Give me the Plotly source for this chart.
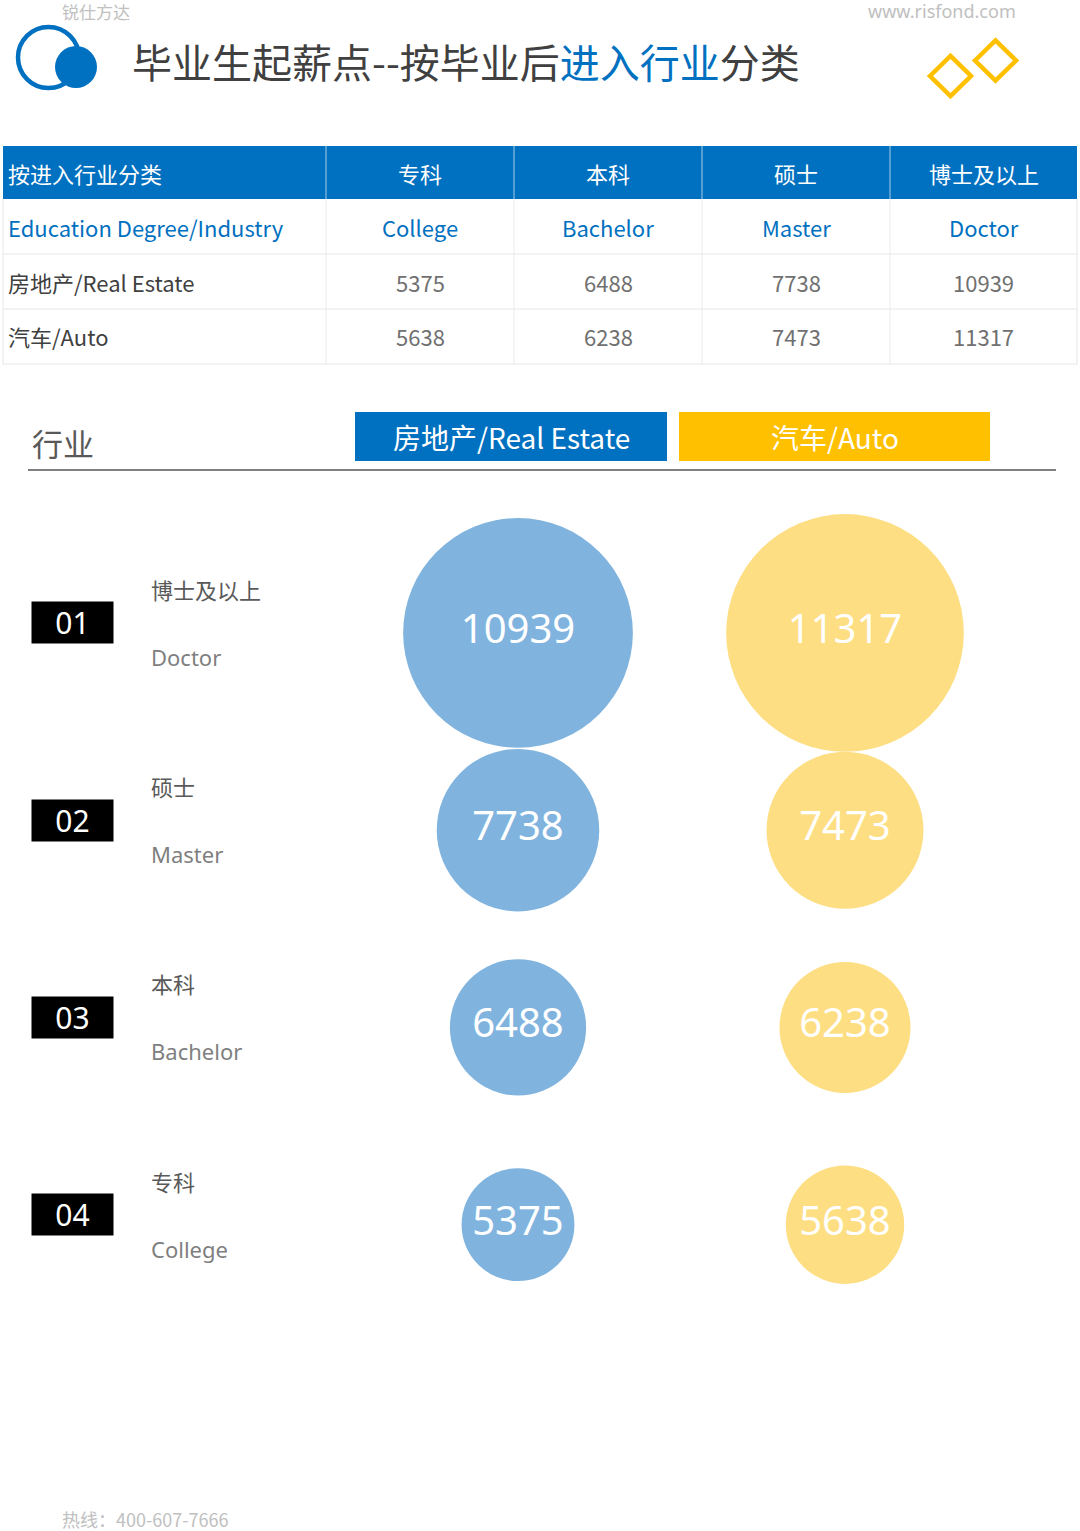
import plotly.graph_objects as go

W, H = 1080, 1531

degrees_cn = ["专科", "本科", "硕士", "博士及以上"]
degrees_en = ["College", "Bachelor", "Master", "Doctor"]
industries = ["房地产/Real Estate", "汽车/Auto"]
real_estate = [5375, 6488, 7738, 10939]
auto = [5638, 6238, 7473, 11317]
row_codes = ["04", "03", "02", "01"]

blue = "#0070C0"
yellow = "#FFC000"
bubble_colors = ["#80B4DF", "#FDDE82"]
FONT = "Noto Sans CJK SC"

# сетка таблицы, в пикселях страницы
col_edges = [3, 326, 514, 702, 890, 1077]
row_edges = [146, 199, 254, 309, 364]


def fx(px):
    return px / W


def fy(px):
    return 1 - px / H


fig = go.Figure()

# пузырьки
for name, vals, col in zip(industries, [real_estate, auto], bubble_colors):
    fig.add_trace(go.Scatter(
        x=[name] * len(vals),
        y=degrees_cn,
        mode="markers+text",
        marker=dict(size=vals, sizemode="diameter", sizeref=1 / 0.021,
                    color=col, opacity=1, line=dict(width=0)),
        text=[str(v) for v in vals],
        textposition="middle center",
        textfont=dict(family="Noto Sans", size=40, color="white"),
        cliponaxis=False,
        hoverinfo="skip",
        showlegend=False,
    ))

shapes = []
annotations = []

# таблица: фон шапки и линии
shapes.append(dict(type="rect", x0=fx(col_edges[0]), x1=fx(col_edges[-1]),
                   y0=fy(row_edges[1]), y1=fy(row_edges[0]),
                   fillcolor=blue, line=dict(width=0), layer="below"))
for xe in col_edges[1:-1]:
    shapes.append(dict(type="line", x0=fx(xe), x1=fx(xe),
                       y0=fy(row_edges[1]), y1=fy(row_edges[0]),
                       line=dict(color="#a9cbe8", width=1)))
    shapes.append(dict(type="line", x0=fx(xe), x1=fx(xe),
                       y0=fy(row_edges[-1]), y1=fy(row_edges[1]),
                       line=dict(color="#ececec", width=1)))
for ye in row_edges[2:]:
    shapes.append(dict(type="line", x0=fx(col_edges[0]), x1=fx(col_edges[-1]),
                       y0=fy(ye), y1=fy(ye),
                       line=dict(color="#e6e6e6", width=1)))
for xe in (col_edges[0], col_edges[-1]):
    shapes.append(dict(type="line", x0=fx(xe), x1=fx(xe),
                       y0=fy(row_edges[-1]), y1=fy(row_edges[1]),
                       line=dict(color="#e6e6e6", width=1)))

# таблица: тексты
table_rows = [
    (["按进入行业分类"] + degrees_cn, ["white"] * 5),
    (["Education Degree/Industry"] + degrees_en, [blue] * 5),
    ([industries[0]] + [str(v) for v in real_estate], ["#404040"] + ["#707070"] * 4),
    ([industries[1]] + [str(v) for v in auto], ["#404040"] + ["#707070"] * 4),
]
for r, (texts, colors) in enumerate(table_rows):
    yc = (row_edges[r] + row_edges[r + 1]) / 2
    for c, (t, clr) in enumerate(zip(texts, colors)):
        if c == 0:
            xp, xa = col_edges[0] + 3, "left"
        else:
            xp, xa = (col_edges[c] + col_edges[c + 1]) / 2, "center"
        annotations.append(dict(text=t, x=fx(xp), y=fy(yc), xanchor=xa, yanchor="middle",
                                font=dict(family=FONT, size=22, color=clr)))

shapes += [
    # логотип
    dict(type="circle", x0=fx(18), x1=fx(79), y0=fy(88), y1=fy(27),
         line=dict(color=blue, width=4.5)),
    dict(type="circle", x0=fx(55), x1=fx(97), y0=fy(88), y1=fy(46),
         fillcolor=blue, line=dict(color=blue, width=0)),
    # ромбы
    dict(type="path",
         path=f"M {fx(930)},{fy(76)} L {fx(950.5)},{fy(56)} L {fx(971)},{fy(76)} L {fx(950.5)},{fy(96)} Z",
         line=dict(color=yellow, width=4.5)),
    dict(type="path",
         path=f"M {fx(975)},{fy(60.5)} L {fx(995.5)},{fy(40.5)} L {fx(1016)},{fy(60.5)} L {fx(995.5)},{fy(80.5)} Z",
         line=dict(color=yellow, width=4.5)),
    # плашки легенды
    dict(type="rect", x0=fx(355), x1=fx(667), y0=fy(461), y1=fy(412),
         fillcolor=blue, line=dict(width=0), layer="below"),
    dict(type="rect", x0=fx(679), x1=fx(990), y0=fy(461), y1=fy(412),
         fillcolor=yellow, line=dict(width=0), layer="below"),
    # линия под заголовком
    dict(type="line", x0=fx(28), x1=fx(1056), y0=fy(470), y1=fy(470),
         line=dict(color="#7f7f7f", width=2)),
]

annotations += [
    dict(text="锐仕方达", x=fx(60), y=fy(11), xanchor="left", yanchor="middle",
         font=dict(family=FONT, size=17, color="#c0c0c0")),
    dict(text="www.risfond.com", x=fx(1018), y=fy(11), xanchor="right", yanchor="middle",
         font=dict(family="Noto Sans", size=18, color="#c0c0c0")),
    dict(text="毕业生起薪点--按毕业后<span style='color:#0070C0'>进入行业</span>分类",
         x=fx(130), y=fy(61), xanchor="left", yanchor="middle",
         font=dict(family=FONT, size=40, color="#404040")),
    dict(text="行业", x=fx(30), y=fy(443), xanchor="left", yanchor="middle",
         font=dict(family=FONT, size=31, color="#595959")),
    dict(text=industries[0], x=fx(511), y=fy(437), xanchor="center", yanchor="middle",
         font=dict(family=FONT, size=28, color="white")),
    dict(text=industries[1], x=fx(834.5), y=fy(437), xanchor="center", yanchor="middle",
         font=dict(family=FONT, size=28, color="white")),
    dict(text="热线：400-607-7666", x=fx(60), y=fy(1519), xanchor="left", yanchor="middle",
         font=dict(family=FONT, size=18, color="#c0c0c0")),
]

# подписи строк с пузырьками
for i, d in enumerate(degrees_cn):
    annotations.append(dict(
        text=row_codes[i], x=fx(72.5), xref="paper", y=d, yref="y",
        yshift=10, xanchor="center", yanchor="middle",
        bgcolor="black", width=79, height=39, borderpad=1,
        font=dict(family="Noto Sans", size=30, color="white")))
    annotations.append(dict(
        text=d, x=fx(149), xref="paper", y=d, yref="y",
        yshift=44, xanchor="left", yanchor="middle",
        font=dict(family=FONT, size=22, color="#595959")))
    annotations.append(dict(
        text=degrees_en[i], x=fx(149), xref="paper", y=d, yref="y",
        yshift=-24, xanchor="left", yanchor="middle",
        font=dict(family="Noto Sans", size=22, color="#7f7f7f")))

for s in shapes:
    s.setdefault("xref", "paper")
    s.setdefault("yref", "paper")
for a in annotations:
    a.setdefault("xref", "paper")
    a.setdefault("yref", "paper")
    a["showarrow"] = False

fig.update_layout(
    width=W,
    height=H,
    margin=dict(l=0, r=0, t=0, b=0),
    paper_bgcolor="white",
    plot_bgcolor="white",
    showlegend=False,
    shapes=shapes,
    annotations=annotations,
    xaxis=dict(domain=[fx(354.5), fx(1008.5)], type="category",
               categoryorder="array", categoryarray=industries,
               range=[-0.5, 1.5], visible=False, fixedrange=True),
    yaxis=dict(domain=[fy(1323.3), fy(534.3)], type="category",
               categoryorder="array", categoryarray=degrees_cn,
               range=[-0.5, 3.5], visible=False, fixedrange=True),
)

fig.write_html("out.html", config=dict(displayModeBar=False),
               post_script="document.body.style.margin='0';document.body.style.overflow='hidden';")
